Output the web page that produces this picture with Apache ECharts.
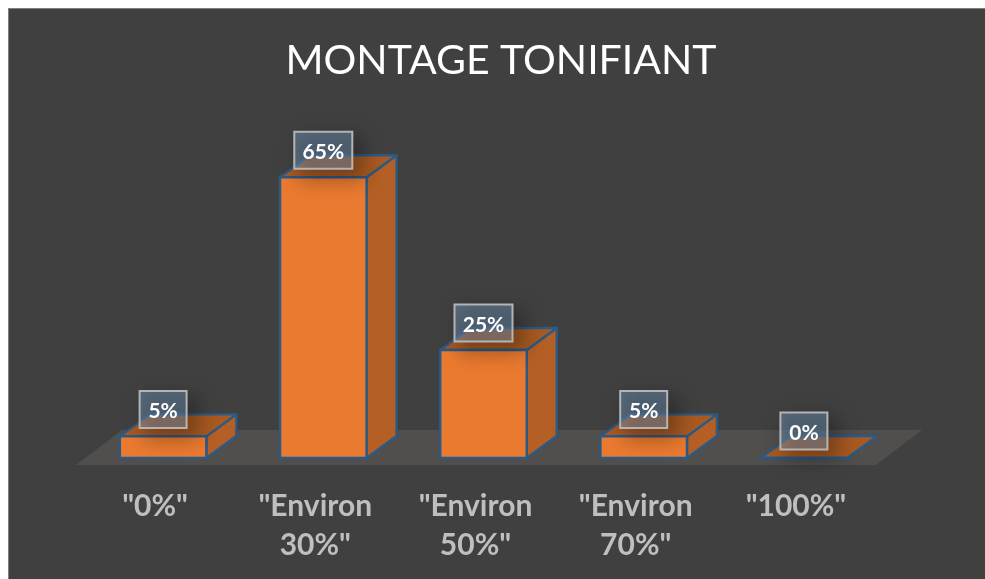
<!DOCTYPE html>
<html>
<head>
<meta charset="utf-8">
<style>
  html, body { margin: 0; height: 100%; background: #fff; }
  #backdrop { position: absolute; left: 8px; top: 8px; right: 0; bottom: 0; background: #404040; border-left: 1px solid #7f7f7f; border-top: 1px solid #7f7f7f; }
  #main { position: absolute; left: 0; top: 0; width: 985px; height: 579px; }
</style>
</head>
<body>
<div id="backdrop"></div>
<div id="main"></div>
<script src="https://cdn.jsdelivr.net/npm/echarts@6/dist/echarts.min.js"></script>
<script>
  const titleText = 'MONTAGE TONIFIANT'
  const categories = ['"0%"', '"Environ\n30%"', '"Environ\n50%"', '"Environ\n70%"', '"100%"']
  const percentValues = [5, 65, 25, 5, 0]

  const fontName = 'Lato, "Open Sans", sans-serif'
  const edgeColor = '#2a5a86'
  const depthX = 30
  const depthY = 22

  function renderFloor (params, api) {
    const start = api.coord([0, 0])
    const end = api.coord([categories.length - 1, 0])
    const band = api.size([1, 0])[0]
    const left = start[0] - band / 2 - 7
    const right = end[0] + band / 2 - 8
    const bottom = start[1] + 7
    const top = start[1] - 28
    return {
      type: 'polygon',
      shape: { points: [[left, bottom], [right, bottom], [right + 46, top], [left + 46, top]] },
      style: { fill: '#514e4e' }
    }
  }

  function renderBar (params, api) {
    const base = api.coord([api.value(0), 0])
    const tip = api.coord([api.value(0), api.value(1)])
    const width = api.size([1, 0])[0] * 0.54
    const x0 = base[0] - width / 2
    const x1 = base[0] + width / 2
    const y0 = base[1]
    const y1 = tip[1]
    const edge = { stroke: edgeColor, lineWidth: 2.4, lineJoin: 'round' }
    const boxW = api.value(1) >= 10 ? 58 : 47
    const boxH = 37
    const boxY = y1 - 27 - boxH / 2
    return {
      type: 'group',
      children: [
        {
          type: 'polygon',
          shape: { points: [[x1, y0], [x1 + depthX, y0 - depthY], [x1 + depthX, y1 - depthY], [x1, y1]] },
          style: Object.assign({ fill: '#b45f25' }, edge)
        },
        {
          type: 'polygon',
          shape: { points: [[x0, y1], [x0 + depthX, y1 - depthY], [x1 + depthX, y1 - depthY], [x1, y1]] },
          style: Object.assign({ fill: '#a85a22' }, edge)
        },
        {
          type: 'rect',
          shape: { x: x0, y: y1, width: width, height: y0 - y1 },
          style: Object.assign({ fill: '#ea7a30' }, edge)
        },
        {
          type: 'rect',
          shape: { x: base[0] - boxW / 2, y: boxY, width: boxW, height: boxH },
          style: {
            fill: 'rgba(125, 170, 215, 0.4)',
            stroke: '#b4b4b4',
            lineWidth: 2,
            shadowBlur: 20,
            shadowOffsetX: 8,
            shadowOffsetY: 8,
            shadowColor: 'rgba(0, 0, 0, 0.7)'
          }
        },
        {
          type: 'text',
          style: {
            x: base[0],
            y: boxY + boxH / 2 + 2,
            text: api.value(1) + '%',
            fill: '#fff',
            font: 'bold 21px ' + fontName,
            align: 'center',
            verticalAlign: 'middle'
          }
        }
      ]
    }
  }

  const myChart = echarts.init(document.getElementById('main'))
  myChart.setOption({
    animation: false,
    backgroundColor: 'transparent',
    title: {
      text: titleText,
      left: 496,
      top: 35,
      textAlign: 'center',
      textStyle: { color: '#fff', fontFamily: fontName, fontWeight: 'normal', fontSize: 41 }
    },
    grid: { left: 83, right: 101, top: 155.6, bottom: 121 },
    xAxis: {
      type: 'category',
      data: categories,
      axisLine: { show: false },
      axisTick: { show: false },
      axisLabel: {
        interval: 0,
        margin: 29,
        color: '#bfbfbf',
        fontFamily: fontName,
        fontWeight: 'bold',
        fontSize: 30,
        lineHeight: 39,
        padding: [0, 16, 0, 0]
      }
    },
    yAxis: { type: 'value', min: 0, max: 70, show: false },
    series: [
      {
        type: 'custom',
        silent: true,
        renderItem: renderFloor,
        encode: { x: 0, y: 1 },
        data: [[0, 0]]
      },
      {
        type: 'custom',
        renderItem: renderBar,
        encode: { x: 0, y: 1 },
        data: percentValues.map((v, i) => [i, v])
      }
    ]
  })
</script>
</body>
</html>
